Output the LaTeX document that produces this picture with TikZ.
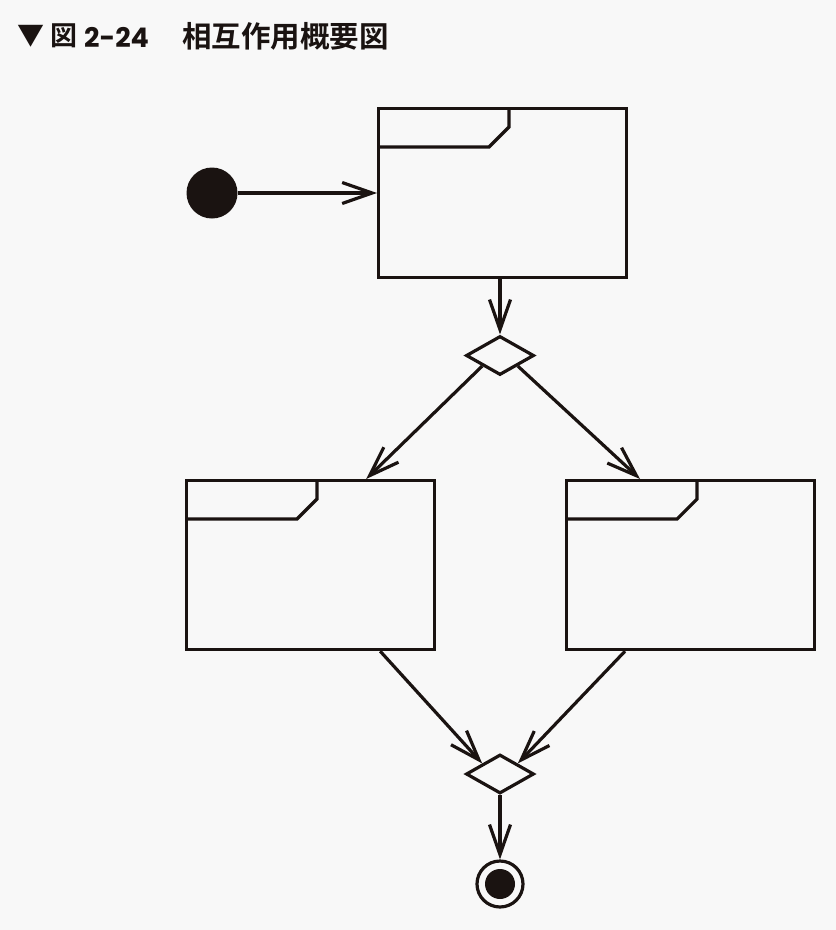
\documentclass[tikz,border=0pt]{standalone}
\usepackage{fontspec}
\newfontfamily\cjkbold{Noto Sans CJK JP Bold}
\newfontfamily\numfont{Poppins}
\usetikzlibrary{arrows.meta,shapes.geometric,calc}
\definecolor{ink}{HTML}{1A1311}
\definecolor{paper}{HTML}{F8F8F8}
\begin{document}
\begin{tikzpicture}[x=1pt,y=-1pt,
  frame/.style={draw=ink,line width=3.2pt,rectangle,minimum width=248pt,minimum height=169pt,inner sep=0pt,anchor=north west},
  decide/.style={draw=ink,line width=3.2pt,diamond,minimum width=68pt,minimum height=39pt,inner sep=0pt,fill=paper},
  flow/.style={draw=ink,line width=3.2pt,-{Straight Barb[length=30pt,width=21pt,line width=3.2pt]}},
  tabline/.style={draw=ink,line width=3.2pt,line join=miter},
  caption/.style={anchor=west,inner sep=0pt,text=ink,font=\cjkbold\fontsize{29.5}{30}\selectfont}]
\useasboundingbox[fill=paper] (0,0) rectangle (836,930);

% caption
\node[caption,font=\cjkbold\fontsize{27}{28}\selectfont] (mark) at (17,36) {▼};
\node[caption,font=\cjkbold\fontsize{27}{28}\selectfont] (figch) at (50,36) {図};
\node[caption,font=\numfont\bfseries\fontsize{27}{28}\selectfont] (fignum) at (84,37) {2-24};
\node[caption] (title) at (182,36) {相互作用概要図};

% start node
\node[circle,fill=ink,minimum size=51pt,inner sep=0pt] (start) at (212,193) {};

% interaction frames
\node[frame] (top) at (377,107) {};
\node[frame] (left) at (185,479) {};
\node[frame] (right) at (565,479) {};
\foreach \f in {top,left,right}{
  \draw[tabline] ([yshift=-40pt]\f.north west) -- ++(112,0) -- ++(20,-20) -- ++(0,-20);
}

% decision / merge diamonds
\node[decide] (split) at (500,355.5) {};
\node[decide] (merge) at (500,774) {};

% final node
\node[circle,draw=ink,line width=3.2pt,minimum size=46pt,inner sep=0pt] (final) at (500,884) {};
\node[circle,fill=ink,minimum size=30pt,inner sep=0pt] (finaldot) at (final) {};

% control flow
\draw[flow] (start) -- (top.west |- start);
\draw[flow] (top.south -| split) -- (split.north);
\draw[flow] ($(split.west)!0.5!(split.south)$) -- ([xshift=-70pt]left.north east);
\draw[flow] ($(split.east)!0.5!(split.south)$) -- ([xshift=75pt]right.north west);
\draw[flow] ([xshift=-56pt]left.south east) -- ($(merge.west)!0.5!(merge.north)$);
\draw[flow] ([xshift=60pt]right.south west) -- ($(merge.east)!0.5!(merge.north)$);
\draw[flow] (merge.south) -- (final.north);
\end{tikzpicture}
\end{document}
